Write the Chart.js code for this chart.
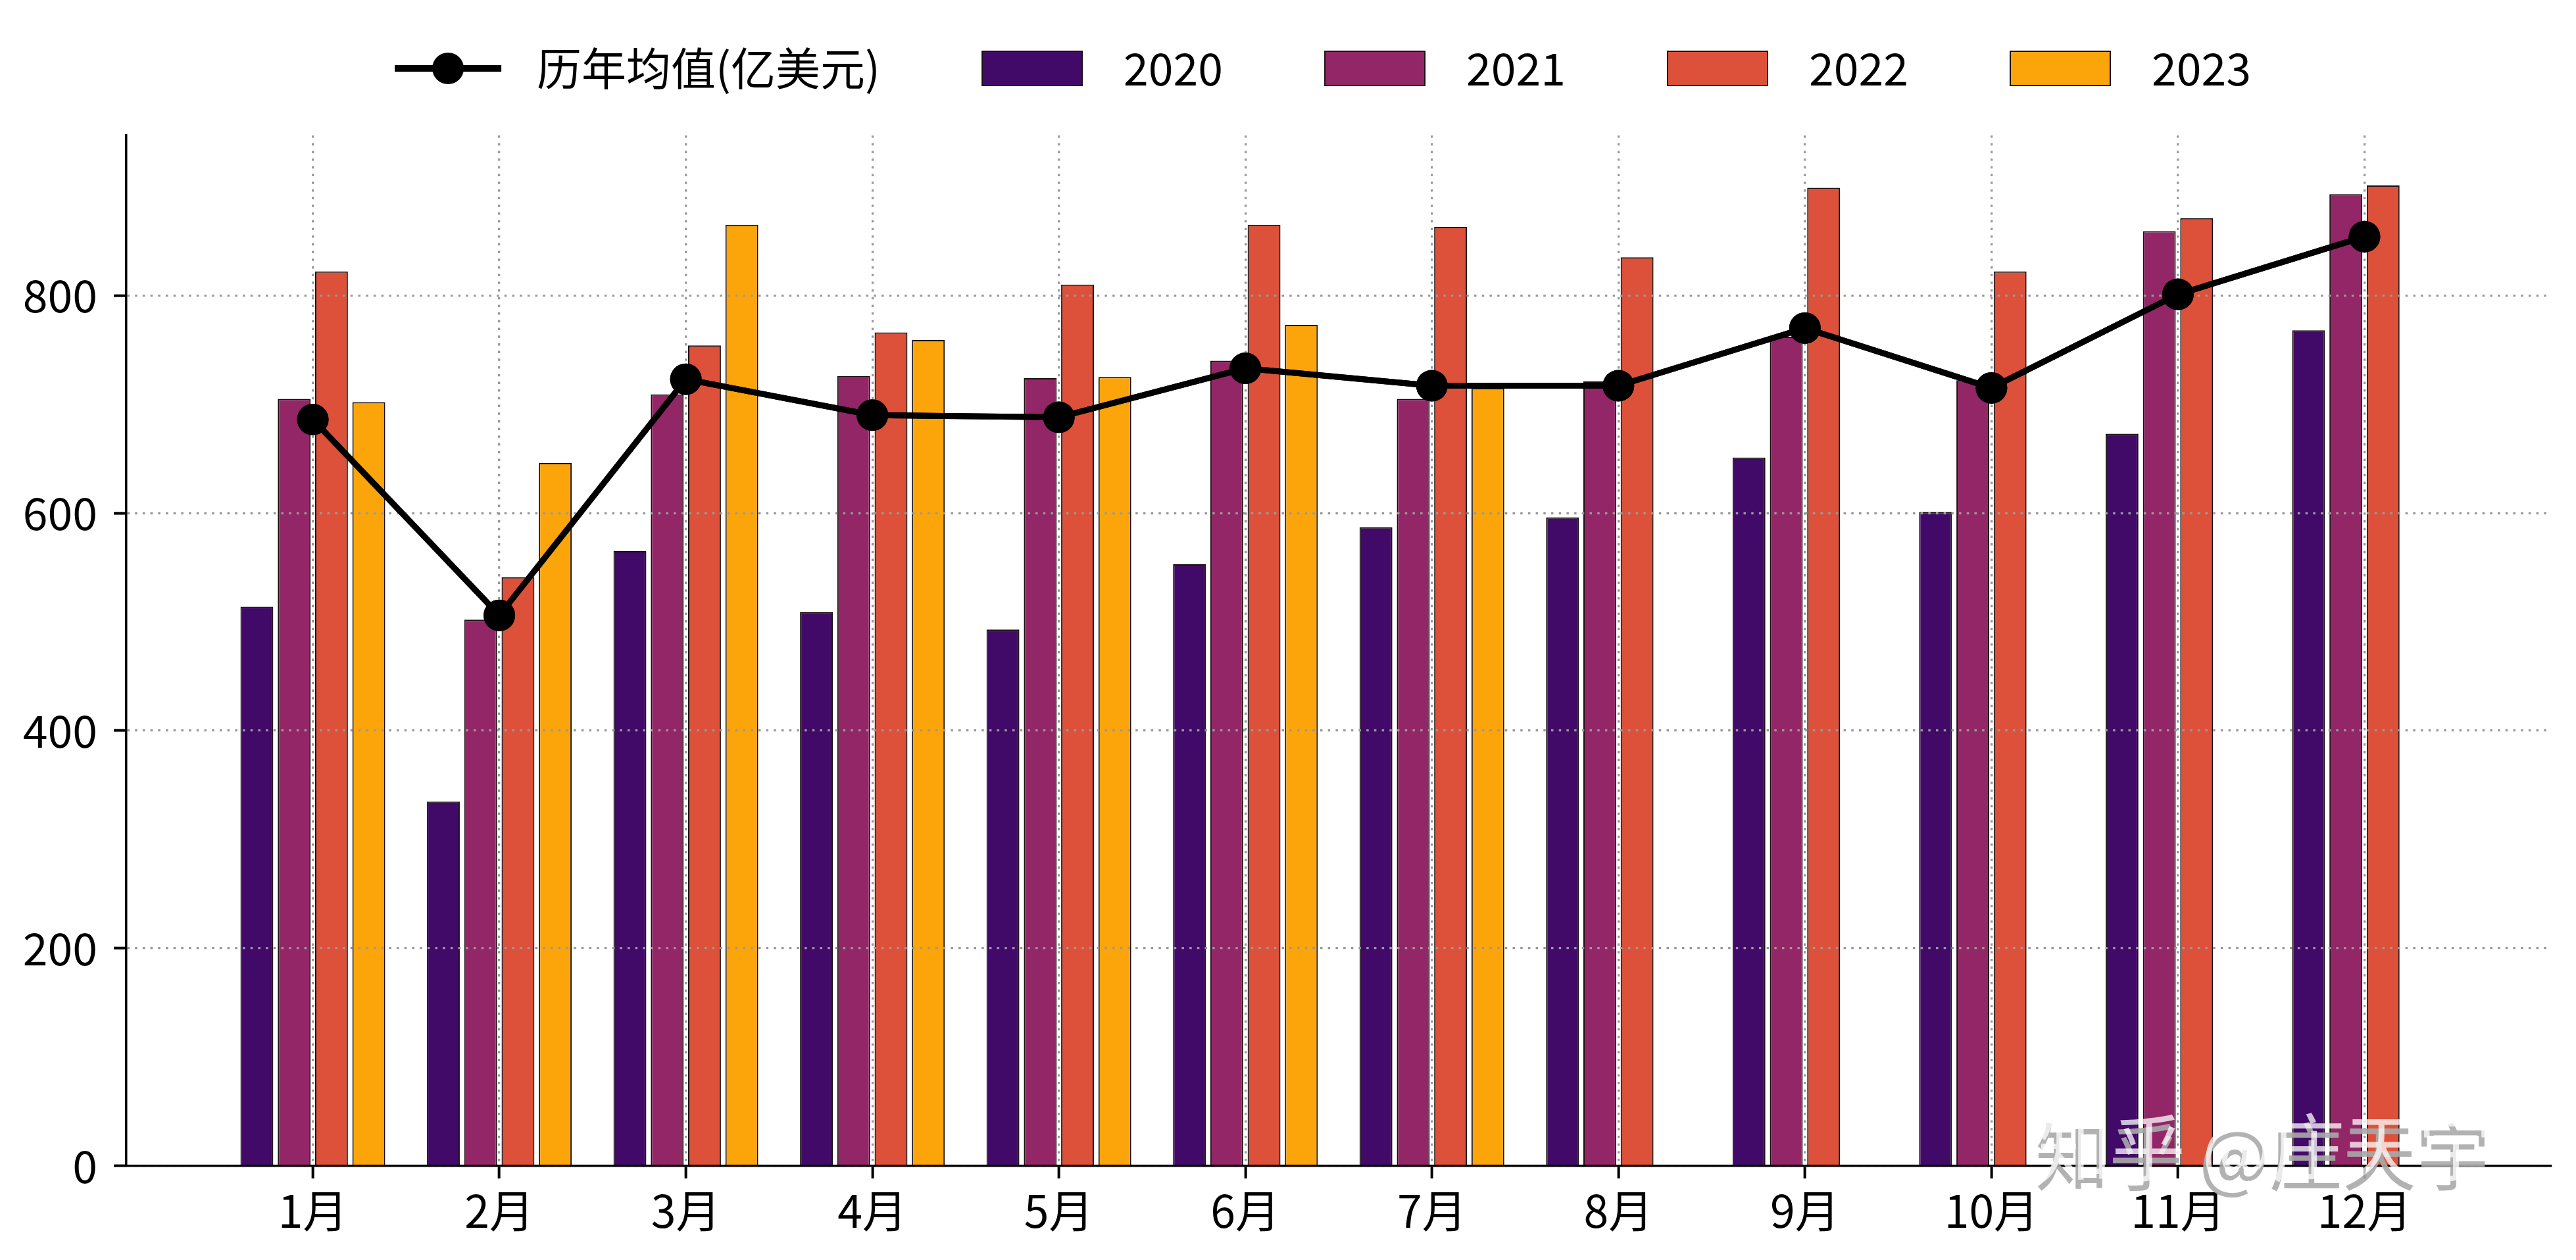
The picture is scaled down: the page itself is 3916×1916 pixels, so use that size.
<!DOCTYPE html>
<html>
<head>
<meta charset="utf-8">
<script src="https://cdn.jsdelivr.net/npm/chart.js@4.4.1/dist/chart.umd.min.js"></script>
<style>
    html, body { margin: 0; padding: 0; background: #fff; }
    #caixa { width: 3916px; height: 1916px; }
</style>
</head>
<body>
<div id="caixa"><canvas id="grafico"></canvas></div>
<script>
const meses = ['1月', '2月', '3月', '4月', '5月', '6月', '7月', '8月', '9月', '10月', '11月', '12月'];
const media_anos = [686, 506, 723, 690, 688, 733, 717, 717, 770, 715, 801, 854];
const valores_2020 = [514, 335, 565, 509, 493, 553, 587, 596, 651, 601, 673, 768];
const valores_2021 = [705, 502, 709, 726, 724, 740, 705, 721, 762, 722, 859, 893];
const valores_2022 = [822, 541, 754, 766, 810, 865, 863, 835, 899, 822, 871, 901];
const valores_2023 = [702, 646, 865, 759, 725, 773, 715, null, null, null, null, null];
const anos = ['2020', '2021', '2022', '2023'];
const cores = ['#420a68', '#932667', '#dd513a', '#fca50a'];
const y_ticks = [0, 200, 400, 600, 800];

const cinza = '#999999';
Chart.defaults.font.family = '"Noto Sans CJK SC", sans-serif';
Chart.defaults.font.size = 68;
Chart.defaults.color = '#000';

function pontos(valores){
    return valores.map((v, i) => ({x: i, y: v}));
}

// icones da legenda: caixa de 326px, o desenho fica a partir de x=144
function icone_barra(cor){
    const c = document.createElement('canvas');
    c.width = 326; c.height = 60;
    const g = c.getContext('2d');
    g.fillStyle = cor;
    g.fillRect(144, 3, 154, 54);
    g.strokeStyle = '#1a1010';
    g.lineWidth = 2;
    g.strokeRect(145, 4, 152, 52);
    return c;
}

function icone_linha(){
    const c = document.createElement('canvas');
    c.width = 326; c.height = 60;
    const g = c.getContext('2d');
    g.strokeStyle = '#000';
    g.lineWidth = 10;
    g.beginPath(); g.moveTo(144, 30); g.lineTo(306, 30); g.stroke();
    g.fillStyle = '#000';
    g.beginPath(); g.arc(225, 30, 24, 0, Math.PI * 2); g.fill();
    return c;
}

const icones = [icone_linha()].concat(cores.map(icone_barra));

const series = [valores_2020, valores_2021, valores_2022, valores_2023];
const datasets = [{
    type: 'line',
    label: '历年均值(亿美元)',
    data: pontos(media_anos),
    borderColor: '#000',
    borderWidth: 9,
    pointRadius: 24,
    pointBackgroundColor: '#000',
    pointBorderWidth: 0,
    tension: 0
}];
for(let i = 0; i < anos.length; i++){
    datasets.push({
        type: 'bar',
        label: anos[i],
        data: pontos(series[i]),
        backgroundColor: cores[i],
        borderColor: '#1a1010',
        borderWidth: 2,
        categoryPercentage: 0.8,
        barPercentage: 0.88
    });
}

// legenda mais alta, linha por cima da grade e marca d'agua
const ajustes = {
    id: 'ajustes',
    beforeLayout(chart){
        const legenda = chart.legend;
        if(legenda && !legenda._ajustado){
            const fit_original = legenda.fit;
            legenda.fit = function(){ fit_original.call(this); this.height = 146; };
            legenda._ajustado = true;
        }
    },
    afterDraw(chart){
        chart.getDatasetMeta(0).controller.draw();
        const ctx = chart.ctx;
        ctx.save();
        ctx.font = '112px "Noto Sans CJK SC"';
        ctx.textBaseline = 'alphabetic';
        ctx.fillStyle = 'rgba(170,170,170,0.9)';
        ctx.fillText('知乎 @庄天宇', 3094, 1802);
        ctx.fillStyle = 'rgba(255,255,255,0.75)';
        ctx.fillText('知乎 @庄天宇', 3098, 1788);
        ctx.restore();
    }
};

const ctx = document.getElementById('grafico').getContext('2d');
const grafico = new Chart(ctx, {
    type: 'bar',
    data: { datasets: datasets },
    plugins: [ajustes],
    options: {
        responsive: true,
        maintainAspectRatio: false,
        devicePixelRatio: 1,
        animation: false,
        events: [],
        layout: { padding: { top: 60, left: 0, right: 38, bottom: 0 } },
        plugins: {
            tooltip: { enabled: false },
            legend: {
                position: 'top',
                labels: {
                    usePointStyle: true,
                    pointStyleWidth: 326,
                    boxHeight: 60,
                    padding: 10,
                    font: { size: 68 },
                    color: '#000',
                    generateLabels: function(chart){
                        return chart.data.datasets.map((ds, i) => ({
                            text: ds.label,
                            pointStyle: icones[i],
                            fillStyle: 'rgba(0,0,0,0)',
                            strokeStyle: 'rgba(0,0,0,0)',
                            lineWidth: 0,
                            hidden: false,
                            datasetIndex: i
                        }));
                    }
                }
            }
        },
        scales: {
            x: {
                type: 'linear',
                min: -1,
                max: 12,
                offset: false,
                afterBuildTicks: function(axis){
                    axis.ticks = meses.map((m, i) => ({value: i}));
                },
                afterFit: function(axis){ axis.height = 143; },
                ticks: {
                    autoSkip: false,
                    maxRotation: 0,
                    padding: 8,
                    font: { size: 68 },
                    callback: function(v){ return meses[v]; }
                },
                grid: {
                    offset: false,
                    color: cinza,
                    lineWidth: 3.3,
                    tickLength: 19,
                    tickColor: '#000',
                    tickWidth: 4,
                    z: 1
                },
                border: { display: true, color: '#000', width: 3.5, dash: [3.5, 8.2], z: 2 }
            },
            y: {
                type: 'linear',
                min: 0,
                max: 947,
                afterBuildTicks: function(axis){
                    axis.ticks = y_ticks.map(v => ({value: v}));
                },
                afterFit: function(axis){ axis.width = 192; },
                ticks: {
                    padding: 25,
                    font: { size: 68 }
                },
                grid: {
                    color: cinza,
                    lineWidth: 3.3,
                    tickLength: 19,
                    tickColor: '#000',
                    tickWidth: 4,
                    z: 1
                },
                border: { display: true, color: '#000', width: 3.5, dash: [3.5, 8.2], z: 2 }
            }
        }
    }
});
</script>
</body>
</html>
